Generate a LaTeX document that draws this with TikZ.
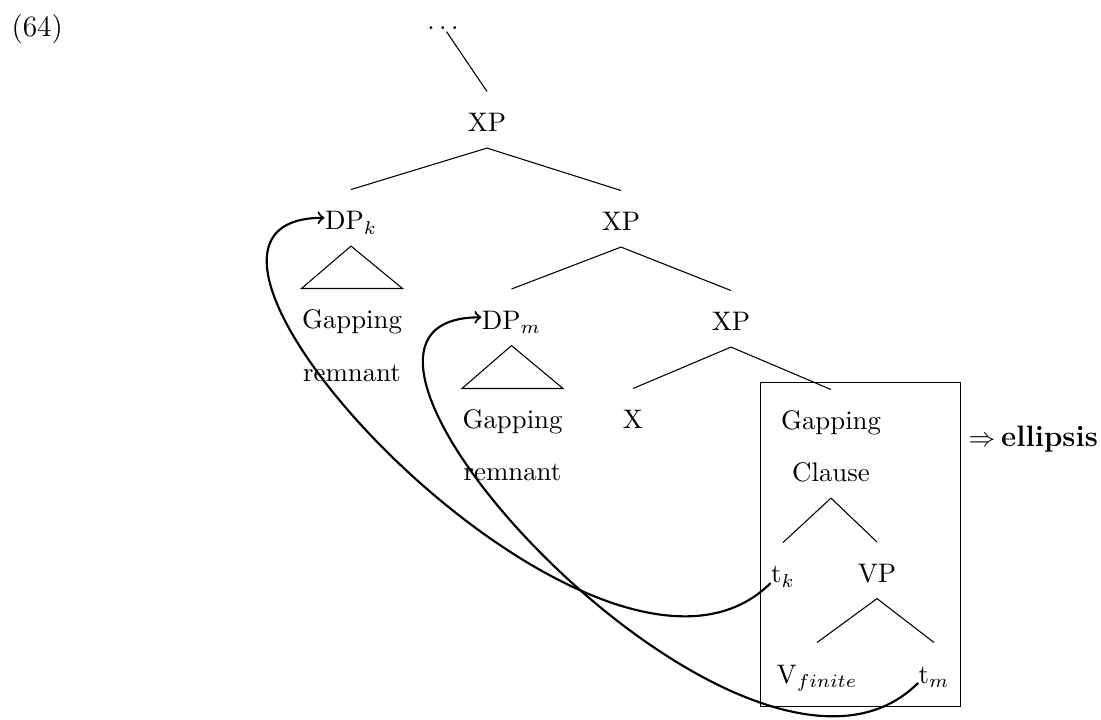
\documentclass[tikz,border=0pt]{standalone}
\usetikzlibrary{fit}
\tikzset{
  lab/.style={inner sep=0pt, text height=14.9pt, text depth=5.8pt, anchor=base},
  edge/.style={line width=0.4pt},
  mv/.style={->, line width=0.8pt},
}
\begin{document}
\begin{tikzpicture}[x=0.3731pt, y=-0.3731pt]
\useasboundingbox (0,0) rectangle (1101,720);
\node[inner sep=0pt, anchor=base west, font=\fontsize{11}{13}\selectfont] (num) at (11,36.5) {(64)};
\node[inner sep=0pt, anchor=base] (dots) at (443,30) {$\ldots$};
\node[lab] (xp1) at (487,132) {XP};
\node[lab] (dpk) at (351,230) {DP$_k$};
\node[lab] (xp2) at (621,231) {XP};
\node[lab] (gap1) at (352,329) {Gapping};
\node[lab] (rem1) at (352,382) {remnant};
\node[lab] (dpm) at (511.5,329.5) {DP$_m$};
\node[lab] (xp3) at (731,331) {XP};
\node[lab] (gap2) at (512.5,429) {Gapping};
\node[lab] (rem2) at (512.5,481) {remnant};
\node[lab] (x) at (633,429) {X};
\node[lab] (gap3) at (831,430) {Gapping};
\node[lab] (clause) at (831,482) {Clause};
\node[lab] (tk) at (783,583) {t$_k$};
\node[lab] (vp) at (877,582.5) {VP};
\node[lab] (vfin) at (817,683) {V$_{finite}$};
\node[lab] (tm) at (934,683) {t$_m$};
\node[draw, line width=0.4pt, fit=(gap3)(clause)(tk)(vp)(vfin)(tm), inner xsep=3.8pt, inner ysep=2.7pt] (box) {};
\node[inner sep=0pt, anchor=base west] (ell) at (968,447) {$\Rightarrow$\hspace{2.2pt}{\fontsize{11}{13}\selectfont\bfseries ellipsis}};

\draw[edge] ([xshift=1.3pt,yshift=-0.4pt]dots.south) -- (xp1.north);
\draw[edge] (xp1.south) -- (dpk.north);
\draw[edge] (xp1.south) -- (xp2.north);
\draw[edge] (xp2.south) -- (dpm.north);
\draw[edge] (xp2.south) -- (xp3.north);
\draw[edge] (xp3.south) -- (x.north);
\draw[edge] (xp3.south) -- (gap3.north);
\draw[edge] (clause.south) -- (tk.north);
\draw[edge] (clause.south) -- (vp.north);
\draw[edge] (vp.south) -- (vfin.north);
\draw[edge] (vp.south) -- (tm.north);
\draw[edge] (dpk.south) -- (gap1.north west) -- (gap1.north east) -- cycle;
\draw[edge] (dpm.south) -- (gap2.north west) -- (gap2.north east) -- cycle;

\draw[mv] (tk.base west) .. controls +(-170,170) and +(-224,0) .. (dpk.west);
\draw[mv] (tm.base west) .. controls +(-170,170) and +(-224,0) .. (dpm.west);
\end{tikzpicture}
\end{document}
